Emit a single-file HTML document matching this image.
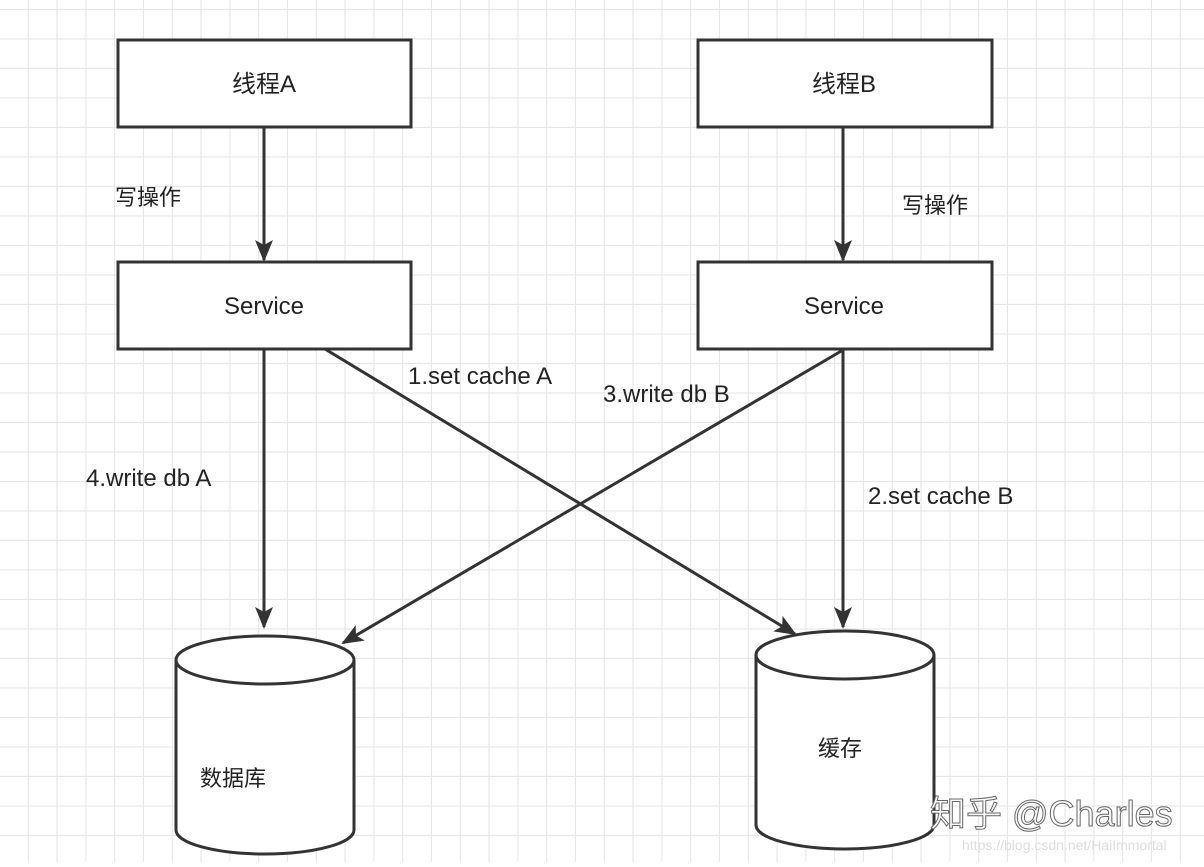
<!DOCTYPE html>
<html><head><meta charset="utf-8"><style>
html,body{margin:0;padding:0;background:#fff}
body{width:1204px;height:862px;overflow:hidden}
</style></head><body>
<svg width="1204" height="862" xmlns="http://www.w3.org/2000/svg" font-family="Liberation Sans, Noto Sans CJK SC, sans-serif">
<defs>
<pattern id="g" x="0" y="10" width="28.8" height="29.5" patternUnits="userSpaceOnUse">
<path d="M28.3 0V29.5M0 29H28.8" stroke="#e6e6e6" stroke-width="1.2" fill="none"/>
</pattern>
<marker id="a" markerWidth="24" markerHeight="20" refX="20" refY="10" orient="auto" markerUnits="userSpaceOnUse">
<path d="M0,1 L22,10 L0,19 L5,10 Z" fill="#333"/>
</marker>
</defs>
<rect width="1204" height="862" fill="url(#g)"/>
<g stroke="#333" stroke-width="3" fill="#fff">
<rect x="118" y="40" width="293" height="87"/>
<rect x="698" y="40" width="294" height="87"/>
<rect x="118" y="262" width="293" height="87"/>
<rect x="698" y="262" width="294" height="87"/>
<path d="M176 660 V830 A89 24 0 0 0 354 830 V660 A89 24 0 0 0 176 660 A89 24 0 0 0 354 660"/>
<path d="M756 655 V825 A89 24 0 0 0 934 825 V655 A89 24 0 0 0 756 655 A89 24 0 0 0 934 655"/>
</g>
<g stroke="#333" stroke-width="3" fill="none" marker-end="url(#a)">
<line x1="264" y1="128" x2="264" y2="260"/>
<line x1="843" y1="128" x2="843" y2="260"/>
<line x1="264" y1="350" x2="264" y2="627"/>
<line x1="843" y1="350" x2="843" y2="627"/>
<line x1="325" y1="349" x2="795" y2="634"/>
<line x1="843" y1="350" x2="343" y2="643"/>
</g>
<g fill="#222" font-size="24">
<text x="264" y="92" text-anchor="middle">线程A</text>
<text x="844" y="92" text-anchor="middle">线程B</text>
<text x="264" y="314" text-anchor="middle">Service</text>
<text x="844" y="314" text-anchor="middle">Service</text>
<text x="115" y="205" font-size="22">写操作</text>
<text x="902" y="213" font-size="22">写操作</text>
<text x="408" y="384">1.set cache A</text>
<text x="603" y="402">3.write db B</text>
<text x="86" y="486">4.write db A</text>
<text x="868" y="504">2.set cache B</text>
<text x="200" y="786" font-size="22">数据库</text>
<text x="818" y="756" font-size="22">缓存</text>
</g>
<text x="930" y="826" font-size="36" fill="#fff" stroke="#666" stroke-width="1">知乎 @Charles</text>
<text x="962" y="850" font-size="14" fill="#ddd">https://blog.csdn.net/HaiImmortal</text>
</svg>
</body></html>
